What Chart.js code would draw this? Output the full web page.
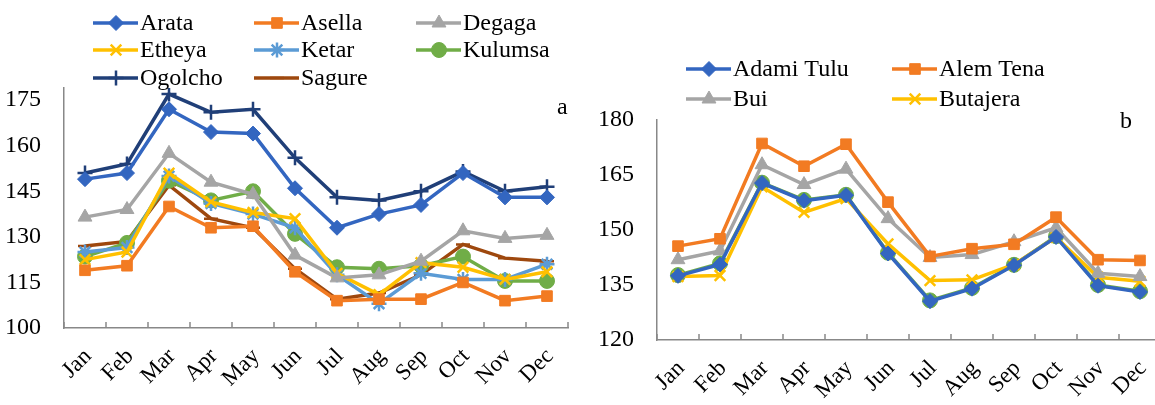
<!DOCTYPE html>
<html lang="en">
<head>
<meta charset="UTF-8">
<title>Monthly values by station</title>
<script src="https://cdn.jsdelivr.net/npm/chart.js@4.4.0/dist/chart.umd.min.js"></script>
<style>
body { margin: 0; overflow: hidden; background: #fff; width: 1155px; height: 405px; position: relative; }
.box { position: absolute; top: 0; height: 405px; width: 590px; }
</style>
</head>
<body>
<div class="box" style="left:0"><canvas id="chartA"></canvas></div>
<div class="box" style="left:590px"><canvas id="chartB"></canvas></div>
<script>
var months = ['Jan','Feb','Mar','Apr','May','Jun','Jul','Aug','Sep','Oct','Nov','Dec'];
var aTicks = [100, 115, 130, 145, 160, 175];
var bTicks = [120, 135, 150, 165, 180];

// panel a
var arata   = [149, 151, 172, 164.5, 164, 146, 133, 137.5, 140.5, 151, 143, 143];
var asella  = [119, 120.5, 140, 133, 133.5, 118.5, 109, 109.5, 109.5, 115, 109, 110.5];
var degaga  = [136.5, 139, 157.5, 148, 144, 124, 116.5, 117.5, 122, 132, 129.5, 130.5];
var etheya  = [122.5, 125, 151, 141.5, 138, 136, 118, 111, 121.5, 120, 116, 118.5];
var ketar   = [125, 126.5, 150, 141, 137.5, 133, 117.5, 108, 118, 116, 116, 121];
var kulumsa = [123.5, 128, 148.5, 142, 145, 131, 120, 119.5, 120.5, 123.5, 115.5, 115.5];
var ogolcho = [151, 154, 177, 171, 172, 156, 143, 142, 145, 151.5, 145, 146.5];
var sagure  = [127, 128.5, 147, 136, 133, 119.5, 109.5, 111.5, 117.5, 127.5, 123, 122];

// panel b
var adamiTulu = [137.5, 140.6, 162.8, 158, 159.5, 143.6, 130.6, 134, 140.4, 148.1, 134.8, 133.1];
var alemTena  = [145.6, 147.6, 173.6, 167.4, 173.4, 157.6, 142.8, 144.9, 146.1, 153.5, 141.9, 141.7];
var bui       = [141.9, 144.3, 167.8, 162.4, 166.6, 153.1, 142.5, 143.3, 146.8, 150.6, 138.2, 137.3];
var butajera  = [137.3, 137.6, 161.8, 154.8, 158.6, 146.2, 136.2, 136.4, 140.6, 148, 137.1, 136];
var fifth     = [137.7, 140.9, 162.9, 158.2, 159.6, 143.8, 130.8, 134.2, 140.5, 148.3, 135, 133.3];

var serif = "'Liberation Serif', 'DejaVu Serif', serif";

function makeSet(label, data, color, style, radius) {
    var thin = (style === 'cross' || style === 'crossRot' || style === 'star' || style === 'line');
    return {
        label: label,
        data: data,
        borderColor: color,
        backgroundColor: color,
        borderWidth: 3.5,
        pointStyle: style,
        pointRadius: radius,
        pointBackgroundColor: color,
        pointBorderColor: color,
        pointBorderWidth: thin ? 2.5 : 1,
        tension: 0,
        fill: false
    };
}

// legend laid out in fixed columns like the original
var colLegend = {
    id: 'colLegend',
    afterDraw: function (chart, args, opts) {
        var ctx = chart.ctx;
        ctx.save();
        chart.data.datasets.forEach(function (ds, i) {
            var p = opts.items[i];
            if (!p) return;
            ctx.strokeStyle = ds.borderColor;
            ctx.lineWidth = 3.5;
            ctx.beginPath();
            ctx.moveTo(p[0], p[1]);
            ctx.lineTo(p[0] + 45, p[1]);
            ctx.stroke();
            ctx.fillStyle = ds.borderColor;
            ctx.lineWidth = ds.pointBorderWidth;
            Chart.helpers.drawPoint(ctx, {pointStyle: ds.pointStyle, radius: ds.pointRadius, rotation: 0, borderWidth: ds.pointBorderWidth}, p[0] + 23, p[1]);
            ctx.fillStyle = '#000';
            ctx.font = '24px ' + serif;
            ctx.textBaseline = 'middle';
            ctx.textAlign = 'left';
            ctx.fillText(ds.label, p[0] + 47, p[1] + 1);
        });
        ctx.font = '24px ' + serif;
        ctx.fillText(opts.tag[0], opts.tag[1], opts.tag[2]);
        // small inward tick marks between months
        var xs = chart.scales.x;
        var step = xs.getPixelForValue(1) - xs.getPixelForValue(0);
        var y0 = chart.chartArea.bottom;
        ctx.strokeStyle = '#888';
        ctx.lineWidth = 1.5;
        for (var k = 0; k <= 12; k++) {
            var x = Math.round(xs.getPixelForValue(0) - step / 2 + k * step);
            ctx.beginPath();
            ctx.moveTo(x, y0);
            ctx.lineTo(x, y0 - 6);
            ctx.stroke();
        }
        ctx.restore();
    }
};

function makeOptions(tickVals, ymin, ymax, pad, yWidth, xHeight, items, tag) {
    return {
        responsive: false,
        animation: false,
        layout: {padding: pad},
        plugins: {
            legend: {display: false},
            tooltip: {enabled: false},
            colLegend: {items: items, tag: tag}
        },
        scales: {
            x: {
                offset: true,
                grid: {display: false},
                border: {display: true, color: '#888', width: 1.5},
                afterFit: function (s) { s.height = xHeight; },
                ticks: {
                    color: '#000',
                    font: {family: serif, size: 23},
                    autoSkip: false,
                    minRotation: 45,
                    maxRotation: 45,
                    padding: 7,
                    labelOffset: 3
                }
            },
            y: {
                min: ymin,
                max: ymax,
                grid: {display: false},
                border: {display: true, color: '#888', width: 1.5},
                afterFit: function (s) { s.width = yWidth; },
                afterBuildTicks: function (s) {
                    s.ticks = tickVals.map(function (v) { return {value: v}; });
                },
                ticks: {
                    color: '#000',
                    font: {family: serif, size: 24},
                    padding: 15
                }
            }
        }
    };
}

function setup(id) {
    var c = document.getElementById(id);
    c.width = 590;
    c.height = 405;
    c.style.width = '590px';
    c.style.height = '405px';
    return c;
}

new Chart(setup('chartA'), {
    type: 'line',
    data: {
        labels: months,
        datasets: [
            makeSet('Arata', arata, '#3366C0', 'rectRot', 7.5),
            makeSet('Asella', asella, '#F27B22', 'rect', 7.5),
            makeSet('Degaga', degaga, '#A5A5A5', 'triangle', 8),
            makeSet('Etheya', etheya, '#FFC000', 'crossRot', 7.5),
            makeSet('Ketar', ketar, '#5B9BD5', 'star', 7.5),
            makeSet('Kulumsa', kulumsa, '#70AD47', 'circle', 7.5),
            makeSet('Ogolcho', ogolcho, '#203F78', 'cross', 7.5),
            makeSet('Sagure', sagure, '#9E480E', 'line', 7)
        ]
    },
    options: makeOptions(aTicks, 100, 179, {left: 0, top: 88, right: 22, bottom: 0}, 64, 77,
        [[93, 23], [254, 23], [416, 23], [93, 50], [254, 50], [416, 50], [93, 78], [254, 78]],
        ['a', 557, 108]),
    plugins: [colLegend]
});

new Chart(setup('chartB'), {
    type: 'line',
    data: {
        labels: months,
        datasets: [
            makeSet('Adami Tulu', adamiTulu, '#3366C0', 'rectRot', 7.5),
            makeSet('Alem Tena', alemTena, '#F27B22', 'rect', 7.5),
            makeSet('Bui', bui, '#A5A5A5', 'triangle', 8),
            makeSet('Butajera', butajera, '#FFC000', 'crossRot', 7.5),
            makeSet('', fifth, '#70AD47', 'circle', 7.5)
        ]
    },
    options: makeOptions(bTicks, 120, 180, {left: 0, top: 120, right: 19, bottom: 0}, 67, 65,
        [[96, 69], [302, 69], [96, 99], [302, 99]],
        ['b', 530, 122]),
    plugins: [colLegend]
});
</script>
</body>
</html>
